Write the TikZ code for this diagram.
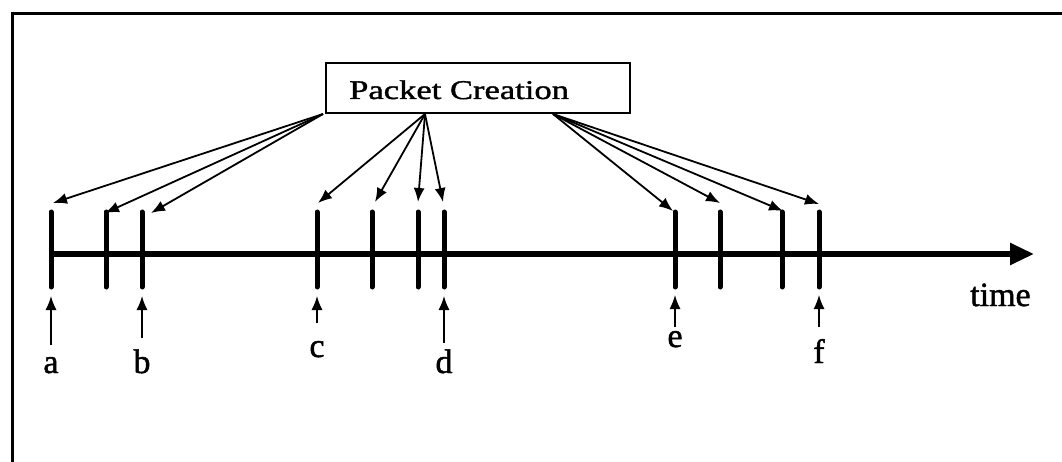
\documentclass[tikz,border=0pt]{standalone}
\usepackage{fontspec}
\setmainfont[FakeBold=1.2]{Liberation Serif}
\newfontfamily\labelfont[FakeBold=1.4]{Liberation Serif}
\newfontfamily\boxfont[FakeStretch=1.28,FakeBold=1.4]{Liberation Serif}
\usetikzlibrary{arrows.meta}

\tikzset{
  frameline/.style={line width=3pt},
  axisline/.style={line width=5.5pt,-{Triangle[length=24pt,width=21pt]}},
  tickmark/.style={line width=5pt,line cap=round},
  feedarrow/.style={line width=1.8pt,-{Latex[length=14pt,width=11pt]}},
  markarrow/.style={line width=1.4pt,-{Latex[length=14pt,width=11pt]}},
  boxstyle/.style={draw,line width=2pt,minimum width=304pt,minimum height=50pt,inner sep=0pt},
  lbl/.style={font=\labelfont\fontsize{34}{40}\selectfont,anchor=base,inner sep=0pt}
}

\begin{document}
\begin{tikzpicture}[x=1pt,y=-1pt]
  \useasboundingbox (0,0) rectangle (1062,462);
  \clip (0,0) rectangle (1062,462);

  % outer frame (left and top edges)
  \draw[frameline] (12,480) -- (12,14) -- (1080,14);

  % packet creation box
  \node[boxstyle] (pc) at (478,88) {};
  \node[anchor=base west,inner sep=0pt,font=\boxfont\fontsize{27}{30}\selectfont] (pctext) at (349,99) {Packet Creation};

  % fan-out origins on the lower edge of the box
  \coordinate (sL) at (323,114);
  \coordinate (sM) at (425,114);
  \coordinate (sR) at (553,114);

  % time axis
  \coordinate (ax0) at (51,254);
  \coordinate (ax1) at (1034,254);
  \draw[axisline] (ax0) -- (ax1);
  \node[lbl,anchor=base west] (time) at (970,306) {time};

  % packet instants
  \foreach \n/\x in {1/51,2/106,3/142,4/317,5/372,6/418,7/444,8/675,9/720,10/782,11/819}{
    \coordinate (top\n) at (\x,212);
    \coordinate (bot\n) at (\x,287);
    \draw[tickmark] (top\n) -- (bot\n);
  }

  % arrow tips above the instants
  \coordinate (h1) at (53,203);
  \coordinate (h2) at (105,213);
  \coordinate (h3) at (151,213);
  \coordinate (h4) at (318,203);
  \coordinate (h5) at (375,202);
  \coordinate (h6) at (418,202);
  \coordinate (h7) at (443,202);
  \coordinate (h8) at (673,211);
  \coordinate (h9) at (720,203);
  \coordinate (h10) at (783,211);
  \coordinate (h11) at (819,204);

  \foreach \n in {1,2,3}{\draw[feedarrow] (sL) -- (h\n);}
  \foreach \n in {4,5,6,7}{\draw[feedarrow] (sM) -- (h\n);}
  \foreach \n in {8,9,10,11}{\draw[feedarrow] (sR) -- (h\n);}

  % marked instants with labels
  \node[lbl] (la) at (51,373) {a};
  \node[lbl] (lb) at (142,373) {b};
  \node[lbl] (lc) at (317,357) {c};
  \node[lbl] (ld) at (444,373) {d};
  \node[lbl] (le) at (675,347) {e};
  \node[lbl] (lf) at (819,363) {f};

  \coordinate (ta) at (51,345);
  \coordinate (tb) at (142,338);
  \coordinate (tc) at (317,323);
  \coordinate (td) at (444,343);
  \coordinate (te) at (675,327);
  \coordinate (tf) at (819,327);

  \draw[markarrow] (ta) -- (51,296);
  \draw[markarrow] (tb) -- (142,296);
  \draw[markarrow] (tc) -- (317,296);
  \draw[markarrow] (td) -- (444,296);
  \draw[markarrow] (te) -- (675,295);
  \draw[markarrow] (tf) -- (819,295);
\end{tikzpicture}
\end{document}
